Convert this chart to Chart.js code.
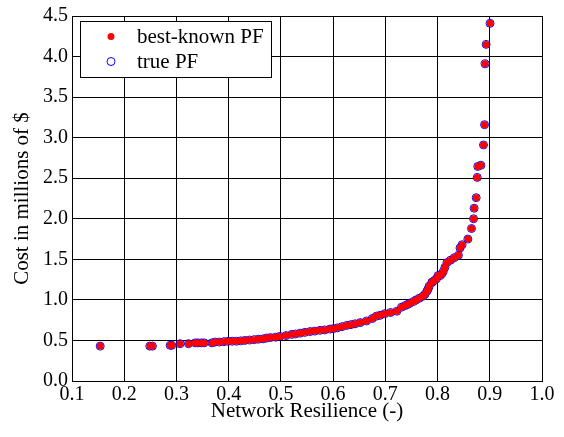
<!DOCTYPE html>
<html>
<head>
<meta charset="utf-8">
<script src="https://cdn.jsdelivr.net/npm/chart.js@4/dist/chart.umd.min.js"></script>
<style>
  html, body { margin: 0; padding: 0; background: #fff; }
  #wrap { width: 564px; height: 437px; }
</style>
</head>
<body>
<div id="wrap"><canvas id="pf"></canvas></div>
<script>
// Pareto front (resilience, cost in M$)
var resilience = [0.154, 0.249, 0.254, 0.288, 0.291, 0.307, 0.323, 0.336, 0.341, 0.348,
    0.353, 0.368, 0.374, 0.382, 0.391, 0.399, 0.407, 0.415, 0.423, 0.431,
    0.440, 0.449, 0.457, 0.466, 0.473, 0.480, 0.490, 0.498, 0.510, 0.521,
    0.528, 0.537, 0.546, 0.556, 0.565, 0.575, 0.584, 0.594, 0.600, 0.608,
    0.617, 0.626, 0.634, 0.642, 0.652, 0.664, 0.675, 0.683, 0.690, 0.699,
    0.710, 0.722, 0.731, 0.738, 0.743, 0.747, 0.754, 0.759, 0.765, 0.772,
    0.776, 0.780, 0.782, 0.784, 0.789, 0.790, 0.794, 0.798, 0.801, 0.805,
    0.808, 0.811, 0.814, 0.818, 0.825, 0.832, 0.840, 0.843, 0.847, 0.858,
    0.865, 0.869, 0.870, 0.874, 0.876, 0.877, 0.883, 0.888, 0.890, 0.891,
    0.893, 0.9005];
var cost = [0.43, 0.43, 0.43, 0.44, 0.44, 0.46, 0.46, 0.47, 0.47, 0.47,
    0.47, 0.47, 0.48, 0.48, 0.485, 0.49, 0.49, 0.49, 0.495, 0.50,
    0.505, 0.51, 0.515, 0.52, 0.53, 0.535, 0.54, 0.55, 0.56, 0.575,
    0.58, 0.59, 0.60, 0.61, 0.615, 0.625, 0.63, 0.64, 0.645, 0.655,
    0.67, 0.685, 0.695, 0.705, 0.72, 0.74, 0.77, 0.80, 0.81, 0.83,
    0.845, 0.86, 0.91, 0.93, 0.945, 0.96, 0.98, 1.00, 1.02, 1.045,
    1.07, 1.11, 1.135, 1.17, 1.215, 1.22, 1.24, 1.26, 1.30, 1.30,
    1.32, 1.35, 1.40, 1.46, 1.49, 1.52, 1.55, 1.64, 1.68, 1.75,
    1.88, 2.00, 2.13, 2.26, 2.51, 2.645, 2.66, 2.91, 3.16, 3.91,
    4.15, 4.41];

var xTicks = [0.1, 0.2, 0.3, 0.4, 0.5, 0.6, 0.7, 0.8, 0.9, 1.0];
var yTicks = [0.0, 0.5, 1.0, 1.5, 2.0, 2.5, 3.0, 3.5, 4.0, 4.5];

var points = [];
for (let i = 0; i < resilience.length; i++) {
    points.push({ x: resilience[i], y: cost[i] });
}

var serif = "'Liberation Serif', 'Times New Roman', serif";
Chart.defaults.font.family = serif;
Chart.defaults.color = '#000';

// legend box drawn inside the plot area
var boxLegend = {
    id: 'boxLegend',
    afterDraw: function(chart) {
        const c = chart.ctx;
        const ds = chart.data.datasets;
        c.save();
        c.fillStyle = '#fff';
        c.fillRect(80.5, 21.5, 191, 56);
        c.strokeStyle = '#000';
        c.lineWidth = 1;
        c.strokeRect(80.5, 21.5, 191, 56);
        c.font = "21px " + serif;
        c.textBaseline = 'middle';
        for (let i = 0; i < ds.length; i++) {
            const y = 36.5 + i * 25;
            c.beginPath();
            c.arc(111, y, ds[i].pointRadius, 0, Math.PI * 2);
            if (ds[i].pointBackgroundColor !== 'transparent') {
                c.fillStyle = ds[i].pointBackgroundColor;
                c.fill();
            }
            c.lineWidth = ds[i].pointBorderWidth;
            c.strokeStyle = ds[i].pointBorderColor;
            if (ds[i].pointBorderWidth > 0) c.stroke();
            c.fillStyle = '#000';
            c.fillText(ds[i].label, 137, y + 1);
        }
        c.restore();
    }
};

function makeChart() {
    const ctx = document.getElementById('pf').getContext('2d');
    const myChart = new Chart(ctx, {
        type: 'scatter',
        data: {
            datasets: [{
                label: 'best-known PF',
                data: points,
                pointRadius: 3.5,
                pointBackgroundColor: '#ff0000',
                pointBorderColor: '#ff0000',
                pointBorderWidth: 0,
            }, {
                label: 'true PF',
                data: points,
                pointRadius: 4,
                pointBackgroundColor: 'transparent',
                pointBorderColor: '#0000ff',
                pointBorderWidth: 1,
            }],
        },
        options: {
            responsive: true,
            maintainAspectRatio: false,
            animation: false,
            layout: { padding: { top: 13, right: 22, left: 0, bottom: 0 } },
            plugins: {
                legend: { display: false },
                tooltip: { enabled: false },
            },
            scales: {
                x: {
                    type: 'linear',
                    min: 0.1,
                    max: 1.0,
                    afterFit: function(s) { s.height = 56; },
                    afterBuildTicks: function(s) { s.ticks = xTicks.map(v => ({ value: v })); },
                    grid: { color: '#000', lineWidth: 1, drawTicks: false },
                    border: { color: '#000', width: 1 },
                    ticks: {
                        color: '#000',
                        padding: 2,
                        maxRotation: 0,
                        font: { family: serif, size: 20 },
                        callback: v => v.toFixed(1),
                    },
                    title: {
                        display: true,
                        text: 'Network Resilience (-)',
                        color: '#000',
                        font: { family: serif, size: 21 },
                        padding: { top: 0, bottom: 13 },
                    },
                },
                y: {
                    type: 'linear',
                    min: 0,
                    max: 4.5,
                    afterFit: function(s) { s.width = 72; },
                    afterBuildTicks: function(s) { s.ticks = yTicks.map(v => ({ value: v })); },
                    grid: { color: '#000', lineWidth: 1, drawTicks: false },
                    border: { color: '#000', width: 1 },
                    ticks: {
                        color: '#000',
                        padding: 4,
                        font: { family: serif, size: 20 },
                        callback: v => v.toFixed(1),
                    },
                    title: {
                        display: true,
                        text: 'Cost in millions of $',
                        color: '#000',
                        font: { family: serif, size: 21 },
                        padding: { top: 10, bottom: 0 },
                    },
                },
            },
        },
        plugins: [boxLegend],
    });
}

document.fonts.load("21px 'Liberation Serif'").then(makeChart, makeChart);
</script>
</body>
</html>
